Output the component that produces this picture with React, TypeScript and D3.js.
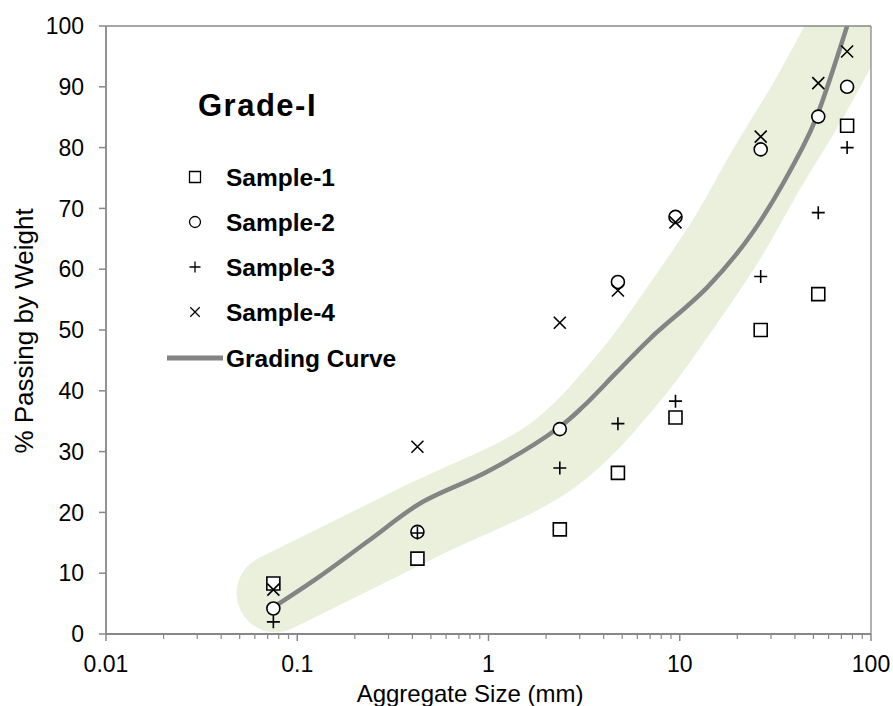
import React from 'react';
import * as d3 from 'd3';

// ---- data ----
const sieveSizes = [0.075, 0.425, 2.36, 4.75, 9.5, 26.5, 53, 75];
const sample1 = [8.3, 12.4, 17.2, 26.5, 35.6, 50.0, 55.9, 83.6];
const sample2 = [4.2, 16.8, 33.7, 57.9, 68.6, 79.7, 85.1, 90.0];
const sample3 = [2.0, 16.6, 27.3, 34.6, 38.3, 58.8, 69.3, 80.0];
const sample4 = [7.3, 30.8, 51.2, 56.5, 67.7, 81.8, 90.6, 95.8];

const gradingSizes = [0.075, 0.13, 0.24, 0.44, 1.0, 2.3, 3.1, 4.7, 7.0, 14, 24, 44, 52, 75];
const gradingValues = [4.4, 9.4, 15.5, 21.5, 26.8, 33.8, 37.3, 43.1, 48.6, 57.1, 66.0, 80.1, 85.1, 100];

const bandSizes = [0.077, 0.44, 2.17, 5.5, 10, 17.7, 28.6, 46, 69, 100];
const bandValues = [6.7, 18.5, 29.4, 42.4, 53.5, 65.1, 76.6, 87.3, 97.3, 106];

const xTickValues = [0.01, 0.1, 1, 10, 100];
const xTickLabels = ['0.01', '0.1', '1', '10', '100'];
const yTickValues = [0, 10, 20, 30, 40, 50, 60, 70, 80, 90, 100];

const seriesNames = ['Sample-1', 'Sample-2', 'Sample-3', 'Sample-4'];
const seriesShapes = ['square', 'circle', 'plus', 'cross'];
const curveName = 'Grading Curve';
const legendTitle = 'Grade-I';
const xTitle = 'Aggregate Size (mm)';
const yTitle = '% Passing by Weight';

// ---- layout ----
const W = 893;
const H = 706;
const L = 106, R = 871, T = 26, B = 634;
const FONT = "'Liberation Sans', Arial, Helvetica, sans-serif";
const AXIS = '#888888';

function markerPath(shape: string, s: number): string {
  const h = s / 2;
  switch (shape) {
    case 'square':
      return `M${-h},${-h}H${h}V${h}H${-h}Z`;
    case 'circle':
      return `M${h},0A${h},${h},0,1,1,${-h},0A${h},${h},0,1,1,${h},0Z`;
    case 'plus':
      return `M${-h},0H${h}M0,${-h}V${h}`;
    default:
      return `M${-h},${-h}L${h},${h}M${-h},${h}L${h},${-h}`;
  }
}

export default function App() {
  const x = d3.scaleLog().domain([0.01, 100]).range([L, R]);
  const y = d3.scaleLinear().domain([0, 100]).range([B, T]);

  const line = d3
    .line<[number, number]>()
    .x((d) => x(d[0]))
    .y((d) => y(d[1]))
    .curve(d3.curveCatmullRom.alpha(0.5));

  const bandPath = line(bandSizes.map((s, i) => [s, bandValues[i]] as [number, number])) || '';
  const gradPath = line(gradingSizes.map((s, i) => [s, gradingValues[i]] as [number, number])) || '';

  const allSeries = [sample1, sample2, sample3, sample4];
  const minorTicks = x.ticks().filter((t) => !xTickValues.some((v) => Math.abs(v - t) / v < 1e-9));

  const legendX = 195;
  const legendRowY = [177, 222, 267, 312];
  const legendCurveY = 358;

  return (
    <svg
      width={W}
      height={H}
      style={{ position: 'absolute', left: 0, top: 0, background: '#fff' }}
      fontFamily={FONT}
    >
      <defs>
        <clipPath id="plotClip">
          <rect x={L} y={T} width={R - L} height={B - T} />
        </clipPath>
      </defs>
      <rect x={0} y={0} width={W} height={H} fill="#fff" />

      {/* band */}
      <g clipPath="url(#plotClip)">
        <path d={bandPath} fill="none" stroke="#ebf0dd" strokeWidth={78} strokeLinecap="round" strokeLinejoin="round" />
        <path d={gradPath} fill="none" stroke="#848484" strokeWidth={4.5} strokeLinecap="butt" />
      </g>

      {/* plot border */}
      <line x1={L} x2={R} y1={T} y2={T} stroke={AXIS} strokeWidth={1.3} />
      <line x1={R} x2={R} y1={T} y2={B} stroke={AXIS} strokeWidth={1.3} />
      <line x1={L} x2={L} y1={T} y2={B} stroke={AXIS} strokeWidth={1.8} />
      <line x1={L} x2={R} y1={B} y2={B} stroke={AXIS} strokeWidth={1.8} />

      {/* y ticks */}
      {yTickValues.map((v) => (
        <g key={'y' + v}>
          <line x1={L - 7} x2={L} y1={y(v)} y2={y(v)} stroke={AXIS} strokeWidth={1.5} />
          <text x={84} y={y(v)} dy="0.36em" textAnchor="end" fontSize={23} fill="#000">
            {v}
          </text>
        </g>
      ))}

      {/* x ticks */}
      {xTickValues.map((v, i) => (
        <g key={'x' + v}>
          <line x1={x(v)} x2={x(v)} y1={B} y2={B + 7} stroke={AXIS} strokeWidth={1.5} />
          <text x={x(v)} y={672} textAnchor="middle" fontSize={23} fill="#000">
            {xTickLabels[i]}
          </text>
        </g>
      ))}
      {minorTicks.map((v) => (
        <line key={'m' + v} x1={x(v)} x2={x(v)} y1={B} y2={B + 5} stroke={AXIS} strokeWidth={1.2} />
      ))}

      {/* axis titles */}
      <text x={470} y={702} textAnchor="middle" fontSize={24} fill="#000">
        {xTitle}
      </text>
      <text
        transform={`translate(33,${331}) rotate(-90)`}
        textAnchor="middle"
        fontSize={26}
        fill="#000"
      >
        {yTitle}
      </text>

      {/* markers */}
      {allSeries.map((vals, si) => (
        <g key={'s' + si}>
          {vals.map((v, i) => (
            <path
              key={i}
              transform={`translate(${x(sieveSizes[i])},${y(v)})`}
              d={markerPath(seriesShapes[si], seriesShapes[si] === 'cross' ? 12 : 13)}
              fill={seriesShapes[si] === 'square' || seriesShapes[si] === 'circle' ? '#fff' : 'none'}
              stroke="#000"
              strokeWidth={1.6}
            />
          ))}
        </g>
      ))}

      {/* legend */}
      <text x={198} y={116} fontSize={31} fontWeight="bold" letterSpacing={1.5} fill="#000">
        {legendTitle}
      </text>
      {seriesNames.map((name, i) => (
        <g key={'l' + i}>
          <path
            transform={`translate(${legendX},${legendRowY[i]})`}
            d={markerPath(seriesShapes[i], seriesShapes[i] === 'cross' ? 9.5 : 11)}
            fill="#fff"
            stroke="#000"
            strokeWidth={1.3}
          />
          <text x={226} y={legendRowY[i]} dy="0.36em" fontSize={24.5} fontWeight="bold" fill="#000">
            {name}
          </text>
        </g>
      ))}
      <line x1={167} x2={223} y1={legendCurveY} y2={legendCurveY} stroke="#848484" strokeWidth={5} />
      <text x={226} y={legendCurveY} dy="0.36em" fontSize={24.5} fontWeight="bold" fill="#000">
        {curveName}
      </text>
    </svg>
  );
}
